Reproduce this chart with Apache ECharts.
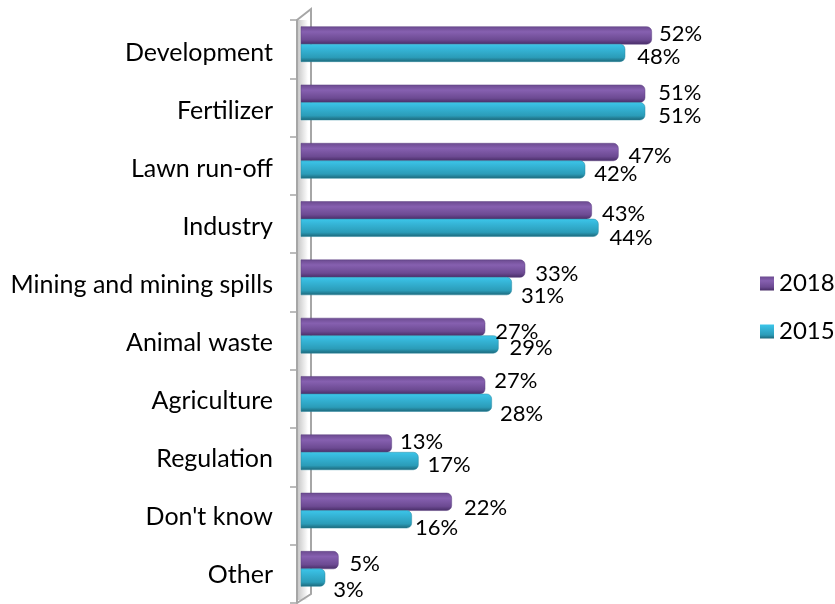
<!DOCTYPE html>
<html>
<head>
<meta charset="utf-8">
<style>
  html, body { margin: 0; padding: 0; background: #fff; }
  #chart { width: 835px; height: 604px; }
</style>
</head>
<body>
<div id="chart"></div>
<script src="https://cdn.jsdelivr.net/npm/echarts@6/dist/echarts.min.js"></script>
<script>
const categories = ['Development', 'Fertilizer', 'Lawn run-off', 'Industry', 'Mining and mining spills',
  'Animal waste', 'Agriculture', 'Regulation', "Don't know", 'Other'];
const values2018 = [52, 51, 47, 43, 33, 27, 27, 13, 22, 5];
const values2015 = [48, 51, 42, 44, 31, 29, 28, 17, 16, 3];

const FONT = 'Lato, "Open Sans", sans-serif';
const axisMin = -0.6;
const axisMax = 60;

// 原图的数据标签是手动摆放的，这里记录每个标签的微调量
const labelNudge2018 = [[-1, -1], [5, -1], [2, 4], [2, 4], [2, 5], [2, 5], [1, -4], [0, -2], [4, 6], [3, 4]];
const labelNudge2015 = [[4, 4], [5, 5], [1, 4], [3, 10], [1, 10], [3, 4], [0, 11], [1, 4], [-5, 9], [0, 12]];

const purple = new echarts.graphic.LinearGradient(0, 0, 0, 1, [
  {offset: 0, color: '#6b4a8f'},
  {offset: 0.3, color: '#8660b0'},
  {offset: 0.75, color: '#6c4a92'},
  {offset: 1, color: '#472c66'}
]);
const teal = new echarts.graphic.LinearGradient(0, 0, 0, 1, [
  {offset: 0, color: '#3cc6ea'},
  {offset: 0.3, color: '#35b4d6'},
  {offset: 0.75, color: '#2b9cb8'},
  {offset: 1, color: '#1c6678'}
]);

// 每根柱子从坐标轴最左边开始画
function barRenderer(fill, side, nudges) {
  return function (params, api) {
    const end = api.coord([api.value(0), api.value(1)]);
    const start = api.coord([axisMin, api.value(1)]);
    const h = 17.5;
    const y = side < 0 ? end[1] - h : end[1];
    return {
      type: 'rect',
      shape: {x: start[0], y: y, width: end[0] - start[0], height: h, r: [0, 5, 5, 0]},
      style: {fill: fill, stroke: side < 0 ? '#5d4080' : '#2a8aa3', lineWidth: 0.5},
      textContent: {
        style: {text: api.value(0) + '%', font: '22px ' + FONT, fill: '#000'}
      },
      textConfig: {position: 'right', distance: 8, offset: nudges[params.dataIndex]}
    };
  };
}

const chart = echarts.init(document.getElementById('chart'), null, {renderer: 'canvas'});
chart.setOption({
  animation: false,
  backgroundColor: '#fff',
  textStyle: {fontFamily: FONT},
  grid: [
    {left: 297, top: 20, width: 400, height: 583},
    {left: 301, top: 15, width: 404, height: 583},
    {left: 297, top: 24, width: 400, height: 583}
  ],
  xAxis: [
    {gridIndex: 0, type: 'value', show: false, min: 0, max: 60},
    {gridIndex: 1, type: 'value', show: false, min: axisMin, max: axisMax},
    {gridIndex: 2, type: 'value', show: false, min: 0, max: 60}
  ],
  yAxis: [
    {
      // 侧墙的轴线和刻度
      gridIndex: 0,
      type: 'category',
      inverse: true,
      data: categories,
      axisLine: {show: true, lineStyle: {color: '#a6a6a6', width: 2}},
      axisTick: {show: true, length: 7, alignWithLabel: false, lineStyle: {color: '#a6a6a6', width: 1.5}},
      axisLabel: {show: false}
    },
    {gridIndex: 1, type: 'category', inverse: true, show: false, data: categories},
    {
      // 类别文字比刻度略微偏下
      gridIndex: 2,
      type: 'category',
      inverse: true,
      data: categories,
      axisLine: {show: false},
      axisTick: {show: false},
      axisLabel: {color: '#000', fontSize: 25, fontFamily: FONT, margin: 24}
    }
  ],
  legend: {
    orient: 'vertical',
    left: 755,
    top: 265,
    padding: 5,
    itemGap: 21,
    itemWidth: 14,
    itemHeight: 14,
    textStyle: {fontSize: 24, fontFamily: FONT, color: '#000', padding: [0, 0, 0, 0], lineHeight: 27},
    data: [
      {name: '2018', icon: 'rect', itemStyle: {color: purple}},
      {name: '2015', icon: 'rect', itemStyle: {color: teal}}
    ]
  },
  // 3D 效果的侧墙
  graphic: [
    {
      type: 'rect', z: 0,
      shape: {x: 298, y: 20, width: 10, height: 580},
      style: {fill: new echarts.graphic.LinearGradient(0, 0, 1, 0, [
        {offset: 0, color: '#c9c9c9'},
        {offset: 1, color: '#ffffff'}
      ])}
    },
    {
      type: 'polyline', z: 1,
      shape: {points: [[297, 20], [311, 9], [311, 594], [297, 603]]},
      style: {stroke: '#a6a6a6', lineWidth: 2, fill: null}
    }
  ],
  series: [
    {
      name: '2018',
      type: 'custom',
      xAxisIndex: 1,
      yAxisIndex: 1,
      z: 3,
      clip: false,
      renderItem: barRenderer(purple, -1, labelNudge2018),
      encode: {x: 0, y: 1},
      data: values2018.map((v, i) => [v, i])
    },
    {
      name: '2015',
      type: 'custom',
      xAxisIndex: 1,
      yAxisIndex: 1,
      z: 3,
      clip: false,
      renderItem: barRenderer(teal, 1, labelNudge2015),
      encode: {x: 0, y: 1},
      data: values2015.map((v, i) => [v, i])
    }
  ]
});
</script>
</body>
</html>
